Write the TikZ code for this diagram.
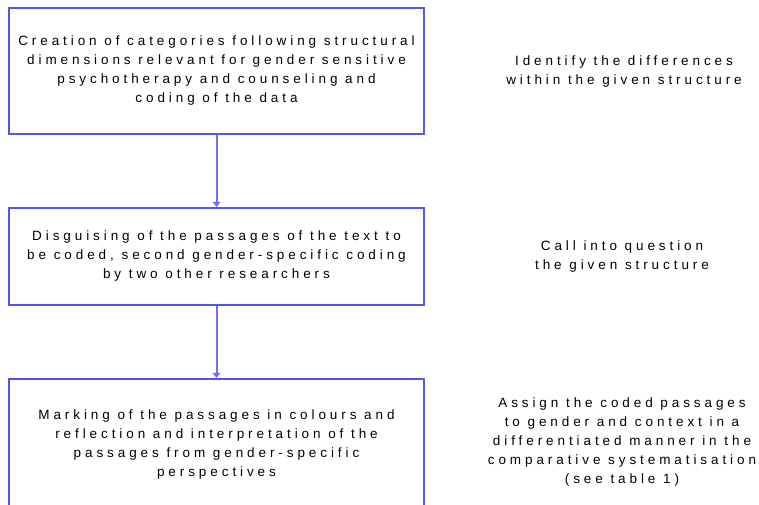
\documentclass[tikz,border=0pt]{standalone}
\usepackage{fontspec}
\setmainfont{Liberation Sans}[LetterSpace=29]
\usetikzlibrary{arrows.meta}
\definecolor{framebl}{RGB}{84,84,245}
\definecolor{flowbl}{RGB}{110,110,250}
\tikzset{
  stepbox/.style={draw=framebl, line width=2.4pt, minimum width=415pt, align=center,
    font=\fontsize{13.5}{19}\selectfont, inner sep=0pt},
  remark/.style={align=center, font=\fontsize{13.5}{19}\selectfont, inner sep=0pt},
  flow/.style={draw=flowbl, line width=2pt, -{Triangle[length=5pt,width=8pt]}}
}
\begin{document}
\begin{tikzpicture}[x=1pt,y=-1pt]
\useasboundingbox (0,0) rectangle (759,504);
\node[stepbox, minimum height=126pt] (s1) at (216.5,71)
  {Creation of categories following structural\\dimensions relevant for gender sensitive\\psychotherapy and counseling and\\coding of the data};
\node[stepbox, minimum height=97pt] (s2) at (216.5,256.5)
  {Disguising of the passages of the text to\\be coded, second gender-specific coding\\by two other researchers};
\node[stepbox, minimum height=130pt] (s3) at (216.5,444)
  {Marking of the passages in colours and\\reflection and interpretation of the\\passages from gender-specific\\perspectives};
\node[remark] (r1) at (624,72) {Identify the differences\\within the given structure};
\node[remark] (r2) at (622,257) {Call into question\\the given structure};
\node[remark] (r3) at (622,442) {Assign the coded passages\\to gender and context in a\\differentiated manner in the\\comparative systematisation\\(see table 1)};
\draw[flow] (s1) -- (s2);
\draw[flow] (s2) -- (s3);
\end{tikzpicture}
\end{document}
